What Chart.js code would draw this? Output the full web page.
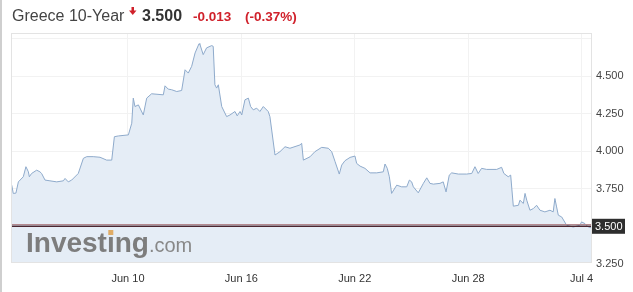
<!DOCTYPE html>
<html lang="en">
<head>
  <meta charset="UTF-8">
  <title>Greece 10-Year</title>
  <script src="https://cdn.jsdelivr.net/npm/chart.js"></script>
  <style>
    body { margin: 0; background: #fff; }
    #wrap { position: relative; width: 633px; height: 292px; }
  </style>
</head>
<body>
  <div id="wrap">
    <canvas id="bondChart" width="633" height="292"></canvas>
  </div>

  <script>
    // x = day of June (Jul 4 = 34), y = yield in %
    const days = [3.85,3.93,4.07,4.20,4.46,4.60,4.73,4.78,4.90,5.17,
      5.34,5.43,5.61,5.87,6.23,6.58,6.67,6.84,7.02,7.37,
      7.64,7.82,8.16,8.52,8.87,9.14,9.28,9.49,10.02,10.20,
      10.28,10.37,10.55,10.81,10.99,11.25,11.87,11.96,12.13,12.31,
      12.58,12.84,13.02,13.19,13.37,13.55,13.76,13.81,13.98,14.16,
      14.43,14.51,14.60,14.69,14.78,14.96,15.22,15.40,15.66,15.78,
      15.93,16.02,16.19,16.37,16.49,16.63,16.81,16.98,17.16,17.42,
      17.51,17.78,18.04,18.31,18.57,19.10,19.19,19.28,19.63,19.89,
      20.25,20.60,20.78,20.96,21.18,21.31,21.48,21.75,22.01,22.10,
      22.28,22.54,22.81,23.16,23.51,23.60,23.72,23.83,23.95,24.22,
      24.48,24.75,24.89,25.01,25.10,25.36,25.63,25.81,25.98,26.16,
      26.51,26.68,26.83,27.00,27.13,27.48,27.92,28.19,28.36,28.53,
      28.71,28.98,29.51,29.77,29.89,30.12,30.25,30.39,30.66,30.74,
      30.92,31.01,31.10,31.27,31.45,31.62,31.80,32.06,32.33,32.50,
      32.59,32.68,32.77,32.95,33.21,33.56,33.91,34.00,34.18,34.35,
      34.50];
    const yields = [3.774,3.719,3.721,3.796,3.830,3.897,3.863,3.830,3.852,3.874,
      3.863,3.852,3.808,3.803,3.796,3.803,3.819,3.796,3.808,3.852,
      3.953,3.964,3.964,3.960,3.941,3.941,4.097,4.102,4.109,4.187,
      4.354,4.298,4.309,4.242,4.354,4.383,4.376,4.436,4.414,4.410,
      4.398,4.405,4.543,4.521,4.566,4.655,4.717,4.711,4.644,4.689,
      4.704,4.699,4.443,4.421,4.443,4.298,4.231,4.242,4.265,4.236,
      4.265,4.242,4.343,4.354,4.298,4.276,4.287,4.265,4.298,4.265,
      4.231,3.975,3.997,4.030,4.020,4.042,4.053,3.941,3.963,3.997,
      4.026,4.020,3.997,3.930,3.848,3.908,3.937,3.959,3.968,3.919,
      3.901,3.886,3.856,3.856,3.863,3.915,3.886,3.830,3.719,3.774,
      3.763,3.763,3.808,3.796,3.763,3.723,3.786,3.823,3.786,3.781,
      3.786,3.796,3.729,3.841,3.856,3.848,3.848,3.852,3.897,3.852,
      3.886,3.879,3.879,3.893,3.852,3.830,3.841,3.634,3.640,3.674,
      3.652,3.719,3.674,3.607,3.618,3.640,3.607,3.596,3.607,3.596,
      3.685,3.629,3.574,3.562,3.507,3.495,3.507,3.529,3.518,3.496,
      3.490];

    const xTickDays = [10, 16, 22, 28, 34];
    const xTickLabels = ['Jun 10', 'Jun 16', 'Jun 22', 'Jun 28', 'Jul 4'];
    const yTicks = [3.25, 3.5, 3.75, 4.0, 4.25, 4.5, 4.75];

    const lastPrice = 3.500;
    const change = '-0.013';
    const changePct = '(-0.37%)';

    const points = days.map((d, i) => ({ x: d, y: yields[i] }));

    // header, frame, logo and last price marker
    const decor = {
      id: 'decor',
      beforeDraw(chart) {
        const ctx = chart.ctx;
        const a = chart.chartArea;
        ctx.save();
        ctx.fillStyle = '#cfcfcf';
        ctx.fillRect(0, 0, 2, chart.height);

        ctx.textBaseline = 'alphabetic';
        ctx.font = '16px "Liberation Sans", Arial, sans-serif';
        ctx.fillStyle = '#444';
        ctx.fillText('Greece 10-Year', 12, 21);

        // small red down arrow
        ctx.fillStyle = '#d0212b';
        ctx.fillRect(131.5, 7, 2.5, 4);
        ctx.beginPath();
        ctx.moveTo(129, 10.5);
        ctx.lineTo(136.5, 10.5);
        ctx.lineTo(132.75, 15);
        ctx.closePath();
        ctx.fill();

        ctx.font = 'bold 16px "Liberation Sans", Arial, sans-serif';
        ctx.fillStyle = '#333';
        ctx.fillText(lastPrice.toFixed(3), 142, 21);

        ctx.font = 'bold 13.5px "Liberation Sans", Arial, sans-serif';
        ctx.fillStyle = '#d0212b';
        ctx.fillText(change, 193, 21);
        ctx.fillText(changePct, 245, 21);
        ctx.restore();
      },
      afterDatasetsDraw(chart) {
        const ctx = chart.ctx;
        const a = chart.chartArea;
        const y = chart.scales.y.getPixelForValue(lastPrice);
        ctx.save();

        // watermark
        ctx.textBaseline = 'alphabetic';
        ctx.font = 'bold 28px "Liberation Sans", Arial, sans-serif';
        ctx.fillStyle = '#7d7d7d';
        const w1 = ctx.measureText('Investing').width;
        const wPre = ctx.measureText('Invest').width;
        const wI = ctx.measureText('i').width;
        ctx.fillText('Investing', 26, 252);
        ctx.fillStyle = '#e0ac66';
        ctx.fillRect(26 + wPre + wI / 2 - 2.5, 230, 5, 5);
        ctx.font = '20px "Liberation Sans", Arial, sans-serif';
        ctx.fillStyle = '#888';
        ctx.fillText('.com', 26 + w1, 252);

        // last price line
        ctx.strokeStyle = '#b48a90';
        ctx.lineWidth = 1;
        ctx.beginPath();
        ctx.moveTo(a.left, Math.round(y) - 1.5);
        ctx.lineTo(a.right, Math.round(y) - 1.5);
        ctx.stroke();
        ctx.strokeStyle = '#4b2630';
        ctx.lineWidth = 1.5;
        ctx.beginPath();
        ctx.moveTo(a.left, Math.round(y) + 0.25);
        ctx.lineTo(a.right, Math.round(y) + 0.25);
        ctx.stroke();

        // frame
        ctx.strokeStyle = '#e3e3e3';
        ctx.lineWidth = 1;
        ctx.strokeRect(a.left + 0.5, a.top + 0.5, a.right - a.left, a.bottom - a.top);

        // last price label
        ctx.fillStyle = '#2e2e2e';
        ctx.fillRect(a.right + 1, y - 7.5, 33, 15);
        ctx.fillStyle = '#fff';
        ctx.font = '11px "Liberation Sans", Arial, sans-serif';
        ctx.textBaseline = 'middle';
        ctx.fillText(lastPrice.toFixed(3), a.right + 4, y + 0.5);
        ctx.restore();
      }
    };

    const ctx = document.getElementById('bondChart').getContext('2d');
    const bondChart = new Chart(ctx, {
      type: 'line',
      data: {
        datasets: [{
          label: 'Greece 10-Year',
          data: points,
          borderColor: '#8eaacb',
          borderWidth: 1,
          backgroundColor: '#e5edf6',
          fill: 'start',
          pointRadius: 0,
          tension: 0
        }]
      },
      options: {
        responsive: false,
        devicePixelRatio: 1,
        animation: false,
        layout: { padding: { top: 33, left: 11, right: 0, bottom: 0 } },
        plugins: {
          legend: { display: false },
          tooltip: { enabled: false }
        },
        scales: {
          x: {
            type: 'linear',
            min: 3.81,
            max: 34.5,
            afterFit: s => { s.height = 30; },
            afterBuildTicks: s => { s.ticks = xTickDays.map(v => ({ value: v })); },
            grid: { color: '#f2f2f2', drawTicks: false },
            border: { display: false },
            ticks: {
              autoSkip: false,
              maxRotation: 0,
              padding: 10,
              color: '#333',
              font: { family: '"Liberation Sans", Arial, sans-serif', size: 11 },
              callback: v => xTickLabels[xTickDays.indexOf(v)] || ''
            }
          },
          y: {
            position: 'right',
            min: 3.262,
            max: 4.788,
            afterFit: s => { s.width = 42; },
            afterBuildTicks: s => { s.ticks = yTicks.map(v => ({ value: v })); },
            grid: {
              color: c => (c.tick && c.tick.value < 3.3) ? 'rgba(0,0,0,0)' : '#f2f2f2',
              drawTicks: false
            },
            border: { display: false },
            ticks: {
              autoSkip: false,
              padding: 5,
              color: '#444',
              font: { family: '"Liberation Sans", Arial, sans-serif', size: 11 },
              callback: v => (v === 3.5 || v === 4.75) ? '' : v.toFixed(3)
            }
          }
        }
      },
      plugins: [decor]
    });
  </script>
</body>
</html>
